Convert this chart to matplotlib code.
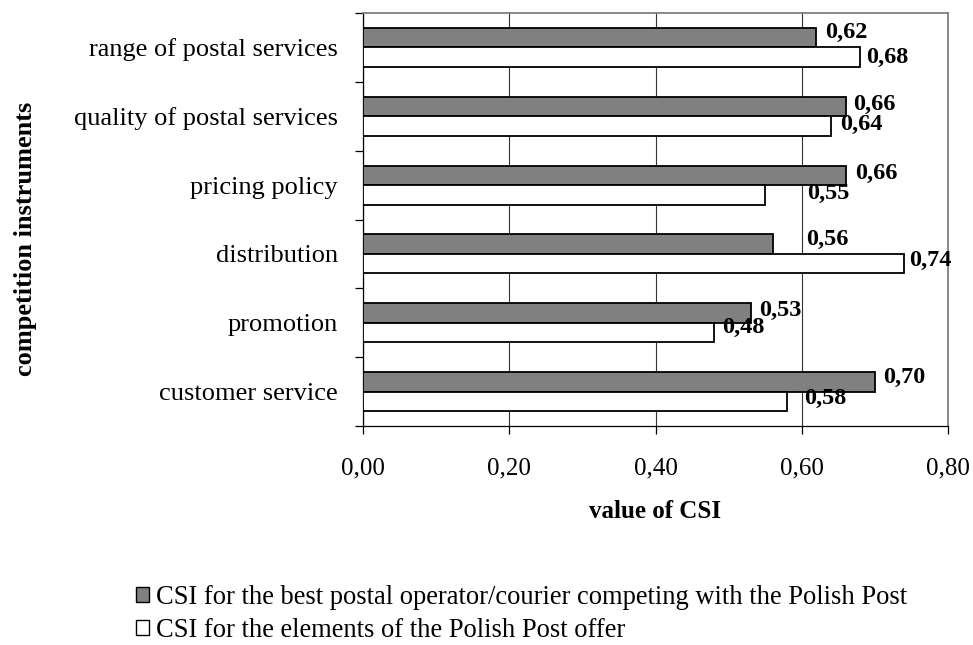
import matplotlib
matplotlib.use("Agg")
import matplotlib.pyplot as plt
from matplotlib.patches import Patch
from matplotlib.ticker import FixedLocator
import numpy as np

plt.rcParams["font.family"] = ["Liberation Serif", "DejaVu Serif"]

# Competition instruments, listed top to bottom
categories = [
    "range of postal services",
    "quality of postal services",
    "pricing policy",
    "distribution",
    "promotion",
    "customer service",
]
csi_competitor = [0.62, 0.66, 0.66, 0.56, 0.53, 0.70]
csi_polish_post = [0.68, 0.64, 0.55, 0.74, 0.48, 0.58]
x_ticks = [0.0, 0.2, 0.4, 0.6, 0.8]
series_names = [
    "CSI for the best postal operator/courier competing with the Polish Post",
    "CSI for the elements of the Polish Post offer",
]

# Label nudges (pixels: right of bar end, downward from bar centre)
comp_nudge = [(9, -5.5), (8, -2.5), (9, -2.3), (34, -5), (9, -3), (8, -4.6)]
post_nudge = [(6, 0), (9, -2), (42, -1.8), (5, -3.5), (8, -5.4), (17, -3)]

W, H, DPI = 973, 645, 100
fig = plt.figure(figsize=(W / DPI, H / DPI), dpi=DPI)
ax = fig.add_axes([363 / W, 1 - 426 / H, (948 - 363) / W, (426 - 13) / H])

y = np.arange(len(categories))
h = 0.283
comp_fill = "#808080"
ax.barh(y - h / 2, csi_competitor, height=h, color=comp_fill,
        edgecolor="black", linewidth=1.3, zorder=3)
ax.barh(y + h / 2, csi_polish_post, height=h, color="white",
        edgecolor="black", linewidth=1.3, zorder=3)

ax.set_xlim(0, 0.8)
ax.set_ylim(len(categories) - 0.5, -0.5)

# value labels
px = 72 / DPI
for i in range(len(categories)):
    for vals, nudge, off in ((csi_competitor, comp_nudge, -h / 2),
                             (csi_polish_post, post_nudge, h / 2)):
        v = vals[i]
        dx, dy = nudge[i]
        ax.annotate(f"{v:.2f}".replace(".", ","), xy=(v, y[i] + off),
                    xytext=(dx * px, -dy * px), textcoords="offset points",
                    ha="left", va="center", fontsize=17.5, fontweight="bold",
                    zorder=5, annotation_clip=False)

# axes styling
ax.xaxis.set_major_locator(FixedLocator(x_ticks))
ax.set_xticklabels([f"{t:.2f}".replace(".", ",") for t in x_ticks], fontsize=18)
ax.grid(axis="x", color="#333333", linewidth=0.8, zorder=0)
ax.tick_params(axis="x", direction="out", length=6, width=0.9, pad=17)

ax.yaxis.set_major_locator(FixedLocator(list(y)))
ax.set_yticklabels(categories, fontsize=19)
ax.yaxis.set_minor_locator(FixedLocator(list(np.arange(len(categories) + 1) - 0.5)))
ax.tick_params(axis="y", which="major", length=0, pad=18)
ax.tick_params(axis="y", which="minor", direction="out", length=6, width=0.9)

for side in ("top", "right"):
    ax.spines[side].set_color("#808080")
    ax.spines[side].set_linewidth(1.3)
for side in ("left", "bottom"):
    ax.spines[side].set_color("black")
    ax.spines[side].set_linewidth(0.9)

fig.text(655 / W, 1 - 512 / H, "value of CSI", ha="center", va="center",
         fontsize=18, fontweight="bold")
fig.text(26 / W, 1 - 239 / H, "competition instruments", ha="center",
         va="center", rotation=90, fontsize=19, fontweight="bold")

handles = [Patch(facecolor=comp_fill, edgecolor="black", linewidth=1.0),
           Patch(facecolor="white", edgecolor="black", linewidth=1.0)]
fig.legend(handles, series_names, loc="upper left",
           bbox_to_anchor=(125 / W, 1 - 574 / H), frameon=False,
           fontsize=19.1, handlelength=0.5, handleheight=0.5,
           handletextpad=0.25, labelspacing=0.3, borderaxespad=0)

fig.savefig("out.png", dpi=DPI)
